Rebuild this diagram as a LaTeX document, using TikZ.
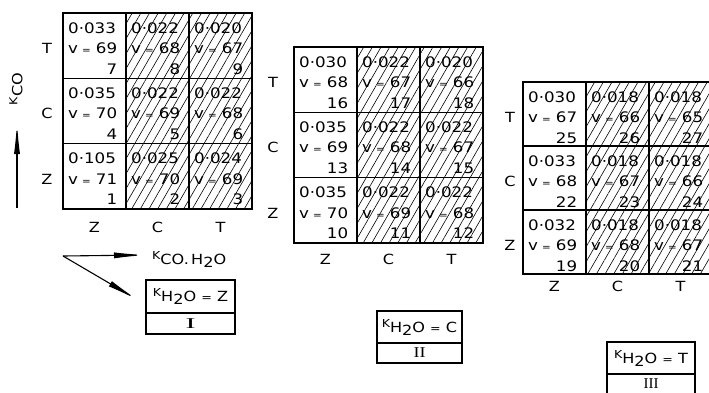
\documentclass[tikz,border=0pt]{standalone}
\usepackage{fontspec}
\usepackage{graphicx}
\usetikzlibrary{arrows.meta,patterns.meta}
\newfontfamily\leroy[FakeStretch=1.15]{DejaVu Sans}
\newfontfamily\romfont{Liberation Serif}
\newcommand\smallK{\raisebox{5pt}{\fontsize{11}{11}\selectfont K}}
\newcommand\keq[1]{\smallK H\raisebox{-3pt}{2}O {\fontsize{11}{11}\selectfont=} #1}
\tikzset{
  hatch/.style={pattern={Lines[angle=60,distance=7.5pt,line width=0.6pt]}},
  gridline/.style={line width=1.5pt, line cap=rect},
  celltxt/.style={inner sep=0pt, font=\leroy\fontsize{14.5}{16}\selectfont, anchor=base west},
  lbl/.style={inner sep=0pt, font=\leroy\fontsize{14}{16}\selectfont, anchor=base},
  axisarrow/.style={line width=1.1pt, -{Latex[length=32pt,width=6pt]}},
  boxpart/.style={draw, line width=1.1pt, inner sep=0pt, font=\leroy\fontsize{14}{16}\selectfont},
  romtxt/.style={boxpart, font=\romfont\fontsize{15}{15}\selectfont},
}
% #1 name, #2 x0, #3 y0, #4 row height, #5 row-label x, #6 column-label baseline, #7 data
\newcommand\drawgrid[7]{%
  \foreach \ri/\ci/\kk/\vv/\nn in {#7} {
    \pgfmathsetmacro\cx{#2+63*\ci}
    \pgfmathsetmacro\cy{#3+#4*\ri}
    \ifnum\ci>0 \fill[hatch] (\cx,\cy) rectangle ++(63,#4);\fi
    \node[celltxt] (#1-\ri\ci-a) at (\cx+5,\cy+20) {\makebox[49pt][l]{\kk}};
    \node[celltxt] (#1-\ri\ci-b) at (\cx+5,\cy+40.5) {\makebox[49pt]{v\hspace{4pt}{\fontsize{9}{9}\selectfont=}\hfill\vv}};
    \node[celltxt] (#1-\ri\ci-c) at (\cx+5,\cy+61) {\makebox[49pt][r]{\nn}};
  }
  \draw[gridline] (#2,#3) rectangle (#2+189,#3+3*#4);
  \draw[gridline] (#2+63,#3) -- (#2+63,#3+3*#4);
  \draw[gridline] (#2+126,#3) -- (#2+126,#3+3*#4);
  \draw[gridline] (#2,#3+#4) -- (#2+189,#3+#4);
  \draw[gridline] (#2,#3+2*#4) -- (#2+189,#3+2*#4);
  \node[lbl] (#1-rT) at (#5,#3+40.5) {T};
  \node[lbl] (#1-rC) at (#5,#3+#4+40.5) {C};
  \node[lbl] (#1-rZ) at (#5,#3+2*#4+40.5) {Z};
  \node[lbl] (#1-cZ) at (#2+31.5,#6) {Z};
  \node[lbl] (#1-cC) at (#2+94.5,#6) {C};
  \node[lbl] (#1-cT) at (#2+157.5,#6) {T};
}
\begin{document}
\begin{tikzpicture}[x=1pt,y=-1pt]
\useasboundingbox (0,0) rectangle (709,392);
\fill[white] (0,0) rectangle (709,392);

\drawgrid{g1}{63}{13}{65.3}{47}{232}{
0/0/0·033/69/7, 0/1/0·022/68/8, 0/2/0·020/67/9,
1/0/0·035/70/4, 1/1/0·022/69/5, 1/2/0·022/68/6,
2/0/0·105/71/1, 2/1/0·025/70/2, 2/2/0·024/69/3}

\drawgrid{g2}{294}{47}{65.3}{273}{264}{
0/0/0·030/68/16, 0/1/0·022/67/17, 0/2/0·020/66/18,
1/0/0·035/69/13, 1/1/0·022/68/14, 1/2/0·022/67/15,
2/0/0·035/70/10, 2/1/0·022/69/11, 2/2/0·022/68/12}

\drawgrid{g3}{523}{82}{64}{510}{291}{
0/0/0·030/67/25, 0/1/0·018/66/26, 0/2/0·018/65/27,
1/0/0·033/68/22, 1/1/0·018/67/23, 1/2/0·018/66/24,
2/0/0·032/69/19, 2/1/0·018/68/20, 2/2/0·018/67/21}

% K_CO axis
\coordinate (kb) at (17,208);
\coordinate (kt) at (17,122);
\draw[axisarrow] (kb) -- (kt);
\node[lbl, anchor=center, rotate=90] (kco) at (16,89) {\smallK CO};

% K_CO.H2O axis and K_H2O direction
\coordinate (o) at (63,256);
\coordinate (he) at (146,255);
\coordinate (de) at (138,300);
\draw[axisarrow] (o) -- (he);
\draw[axisarrow] (o) -- (de);
\node[lbl, anchor=base west] (kcoh) at (152,264) {\smallK CO.\,H\raisebox{-3pt}{2}O};

% boxes
\node[boxpart, minimum width=89pt, minimum height=33pt] (b1) at (190.5,296.5) {\keq{Z}};
\node[romtxt, minimum width=89pt, minimum height=21pt] (b1r) at (190.5,323.5) {\scalebox{2}[1]{I}};
\node[boxpart, minimum width=85pt, minimum height=32pt] (b2) at (419.5,327) {\keq{C}};
\node[romtxt, minimum width=85pt, minimum height=20pt] (b2r) at (419.5,353) {\scalebox{1.2}[1]{II}};
\node[boxpart, minimum width=88pt, minimum height=32pt] (b3) at (651,358) {\keq{T}};
\node[romtxt, minimum width=88pt, minimum height=20pt] (b3r) at (651,384) {III};
\end{tikzpicture}
\end{document}
